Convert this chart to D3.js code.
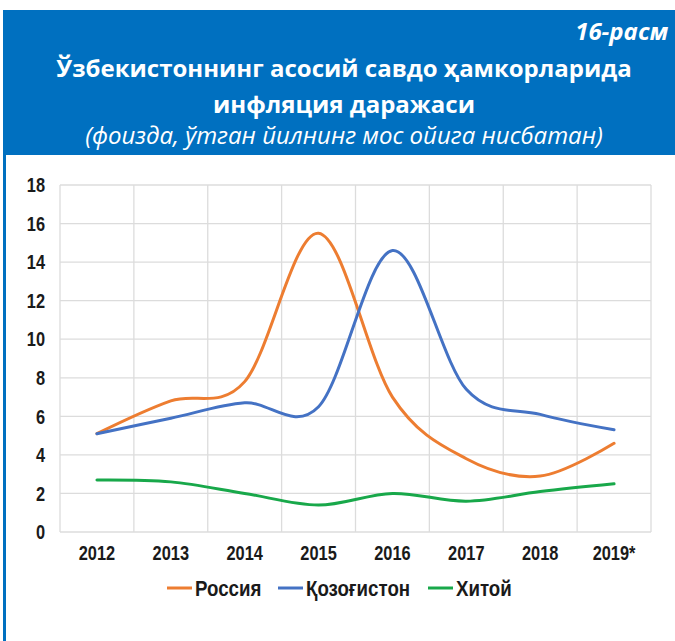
<!DOCTYPE html>
<html lang="uz">
<head>
  <meta charset="UTF-8">
  <title>Inflation in Uzbekistan's main trading partners</title>
  <script src="https://d3js.org/d3.v7.min.js"></script>
  <style>
    body {
      margin: 0;
      background: #fff;
    }
    svg {
      display: block;
    }
  </style>
</head>
<body>

<svg id="chart" width="675" height="641"></svg>

<script>
// Data
const years = ["2012", "2013", "2014", "2015", "2016", "2017", "2018", "2019*"];
const russia = [5.1, 6.8, 7.8, 15.5, 7.0, 3.8, 2.9, 4.6];
const kazakhstan = [5.1, 5.9, 6.7, 6.5, 14.6, 7.4, 6.1, 5.3];
const china = [2.7, 2.6, 2.0, 1.4, 2.0, 1.6, 2.1, 2.5];
const seriesNames = ["Россия", "Қозоғистон", "Хитой"];
const yTicks = [0, 2, 4, 6, 8, 10, 12, 14, 16, 18];

const titleTag = "16-расм";
const titleLines = ["Ўзбекистоннинг асосий савдо ҳамкорларида", "инфляция даражаси"];
const subtitle = "(фоизда, ўтган йилнинг мос ойига нисбатан)";

const colors = ["#ed7d31", "#4472c4", "#18a84a"];
const series = [russia, kazakhstan, china].map((values, i) => ({
  name: seriesNames[i],
  color: colors[i],
  values: values
}));

const svg = d3.select("#chart");
const headFont = "'Open Sans', 'Noto Sans', sans-serif";
const axisFont = "'Liberation Sans', Arial, sans-serif";
const squeeze = 0.78; // fake a narrow face, no Arial Narrow here

// Header box
svg.append("rect")
  .attr("x", 3).attr("y", 10)
  .attr("width", 672).attr("height", 145)
  .attr("fill", "#0070c0");

// left border running down the page
svg.append("rect")
  .attr("x", 3).attr("y", 150)
  .attr("width", 3).attr("height", 491)
  .attr("fill", "#0070c0");

svg.append("text")
  .attr("x", 668).attr("y", 40)
  .attr("text-anchor", "end")
  .attr("fill", "#fff")
  .style("font-family", headFont)
  .style("font-weight", "bold")
  .style("font-style", "italic")
  .style("font-size", "24px")
  .text(titleTag);

svg.selectAll(".title")
  .data(titleLines)
  .join("text")
  .attr("class", "title")
  .attr("x", 344)
  .attr("y", (d, i) => 77 + i * 36)
  .attr("text-anchor", "middle")
  .attr("fill", "#fff")
  .style("font-family", headFont)
  .style("font-weight", "bold")
  .style("font-size", "24px")
  .text(d => d);

svg.append("text")
  .attr("x", 344).attr("y", 144)
  .attr("text-anchor", "middle")
  .attr("fill", "#fff")
  .style("font-family", headFont)
  .style("font-style", "italic")
  .style("font-size", "24px")
  .text(subtitle);

// Plot area
const plot = {left: 60, right: 651, top: 185, bottom: 532};

const x = d3.scaleBand()
  .domain(years)
  .range([plot.left, plot.right]);

const y = d3.scaleLinear()
  .domain([0, 18])
  .range([plot.bottom, plot.top]);

const g = svg.append("g");

// horizontal gridlines
g.append("g")
  .selectAll("line")
  .data(yTicks)
  .join("line")
  .attr("x1", plot.left).attr("x2", plot.right)
  .attr("y1", d => y(d)).attr("y2", d => y(d))
  .attr("stroke", "#dcdcdc")
  .attr("stroke-width", 1.3);

// vertical gridlines at category boundaries
const bounds = years.map(d => x(d)).concat([plot.right]);
g.append("g")
  .selectAll("line")
  .data(bounds)
  .join("line")
  .attr("x1", d => d).attr("x2", d => d)
  .attr("y1", plot.top).attr("y2", plot.bottom)
  .attr("stroke", "#dcdcdc")
  .attr("stroke-width", 1.3);

// Y axis labels
const yAxis = g.append("g")
  .attr("transform", `translate(${plot.left},0)`)
  .call(d3.axisLeft(y).tickValues(yTicks).tickSize(0));
yAxis.select(".domain").remove();
yAxis.selectAll("text")
  .attr("x", -15 / squeeze)
  .attr("transform", `scale(${squeeze},1)`)
  .attr("fill", "#1a1a1a")
  .style("font-family", axisFont)
  .style("font-weight", "bold")
  .style("font-size", "21px");

// X axis labels
const xAxis = g.append("g")
  .attr("transform", `translate(0,${plot.bottom})`)
  .call(d3.axisBottom(x).tickSize(0).tickPadding(13));
xAxis.select(".domain").remove();
xAxis.selectAll("text")
  .attr("transform", `scale(${squeeze},1)`)
  .attr("fill", "#1a1a1a")
  .style("font-family", axisFont)
  .style("font-weight", "bold")
  .style("font-size", "21px");

// Lines
const line = d3.line()
  .x((d, i) => x(years[i]) + x.bandwidth() / 2)
  .y(d => y(d))
  .curve(d3.curveCardinal.tension(0));

g.append("g")
  .selectAll("path")
  .data(series)
  .join("path")
  .attr("fill", "none")
  .attr("stroke", d => d.color)
  .attr("stroke-width", 3)
  .attr("stroke-linecap", "round")
  .attr("d", d => line(d.values));

// Legend
const legendX = [167, 278, 428];
const legendSqueeze = 0.85;
const legend = svg.append("g")
  .selectAll("g")
  .data(series)
  .join("g")
  .attr("transform", (d, i) => `translate(${legendX[i]},588)`);

legend.append("line")
  .attr("x1", 0).attr("x2", 25)
  .attr("stroke", d => d.color)
  .attr("stroke-width", 3);

legend.append("text")
  .attr("x", 28 / legendSqueeze)
  .attr("dy", "0.35em")
  .attr("transform", `scale(${legendSqueeze},1)`)
  .attr("fill", "#1a1a1a")
  .style("font-family", axisFont)
  .style("font-weight", "bold")
  .style("font-size", "22px")
  .text(d => d.name);
</script>

</body>
</html>
